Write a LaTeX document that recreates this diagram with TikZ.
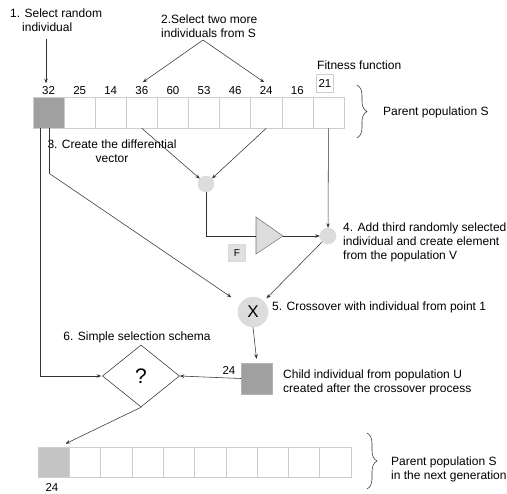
\documentclass[tikz,border=0pt]{standalone}
\usepackage{fontspec}
\setmainfont{Liberation Sans}
\usetikzlibrary{shapes.geometric,decorations.pathreplacing,arrows.meta}
\definecolor{darkcell}{HTML}{A0A0A0}
\definecolor{lightcell}{HTML}{C4C4C4}
\definecolor{bubble}{HTML}{DCDCDC}
\definecolor{cellline}{HTML}{CDCDCD}
\definecolor{ink}{HTML}{333333}
\begin{document}
\begin{tikzpicture}[x=1pt,y=-1pt,
  font=\fontsize{12}{14}\selectfont,
  arr/.style={-{Stealth[length=4.5pt,width=3.5pt]}, draw=ink, line width=0.55pt},
  ln/.style={draw=ink, line width=0.55pt},
  cell/.style={draw=cellline, minimum width=31.1pt, minimum height=31pt, inner sep=0pt, line width=0.6pt},
  bcell/.style={draw=cellline, minimum width=31.3pt, minimum height=30pt, inner sep=0pt, line width=0.6pt},
  txt/.style={inner sep=0pt, align=left},
  num/.style={inner sep=0pt, font=\fontsize{11.5}{13}\selectfont},
  bub/.style={circle, fill=bubble, draw=black!15, inner sep=0pt, minimum size=16pt},
  bracestyle/.style={draw=ink, line width=0.55pt, decorate, decoration={brace, amplitude=10pt}}
]
\useasboundingbox (0,0) rectangle (507,494);

% top population
\foreach \i in {1,...,10} {
  \node[cell] (c\i) at ({33+(\i-0.5)*31.1},112.5) {};
}
\node[cell, fill=darkcell] at (c1) {};
\foreach \v [count=\i] in {32,25,14,36,60,53,46,24,16} {
  \node[num] (n\i) at ({33+(\i-0.5)*31.1},90.5) {\v};
}
\node[draw=cellline, line width=0.6pt, minimum width=17pt, minimum height=18pt, inner sep=0pt, font=\fontsize{11.5}{13}\selectfont] (fit) at (325,83) {21};
\node[txt, anchor=west] (fitlbl) at (317,65) {Fitness function};

% brace top
\coordinate (bt1) at (357,85);
\coordinate (bt2) at (357,138);
\draw[bracestyle] (bt1) -- (bt2);
\node[txt, anchor=west] (parS) at (383,112) {Parent population S};

% labels
\node[txt, anchor=west] (l1) at (10,20) {1. Select random\\\hspace*{12pt}individual};
\node[txt, anchor=west] (l2) at (161,26) {2.Select two more\\individuals from S};
\node[inner sep=0pt, align=center] (l3) at (112,151) {3. Create the differential\\vector};
\node[txt, anchor=west] (l4) at (343,242) {4. Add third randomly selected\\individual and create element\\from the population V};
\node[txt, anchor=west] (l5) at (272,307) {5. Crossover with individual from point 1};
\node[inner sep=0pt] (l6) at (137,337) {6. Simple selection schema};

% arrows from labels
\coordinate (a1s) at (46,39);
\coordinate (a2s) at (203,40);
\draw[arr] (a1s) -- ([yshift=3pt]a1s |- n1.north);
\draw[arr] (a2s) -- ([xshift=1pt,yshift=4pt]n4.north);
\draw[arr] (a2s) -- ([xshift=-2pt,yshift=4pt]n8.north);

% differential circle
\node[bub] (d1) at (206,184) {};
\draw[arr] (c4.south) -- (d1);
\draw[arr] (c8.south) -- (d1);

% triangle
\draw[fill=bubble, draw=black!55, line width=0.55pt] (256,217) -- (283,236) -- (256,254) -- cycle;
\coordinate (triW) at (256,236);
\coordinate (triE) at (283,236);
\draw[ln] (d1.south) |- (triW);
\node[fill=black!12, draw=black!15, minimum size=17pt, inner sep=0pt, font=\fontsize{10}{12}\selectfont] (F) at (237,253) {F};

% second circle
\node[bub] (d2) at (328,236) {};
\draw[arr] (triE) -- (d2);
\draw[arr] (c10.south) -- (d2);

% crossover
\node[circle, fill=bubble, draw=black!15, inner sep=0pt, minimum size=30pt, font=\fontsize{17}{17}\selectfont] (X) at (253,312) {X};
\draw[arr, shorten >=4pt] (d2) -- (X);
\draw[ln] ([xshift=0.5pt]c1.south) -- ++(0,45) coordinate (bend);
\draw[arr, shorten >=11pt] (bend) -- (X);

% child
\node[fill=darkcell, draw=black!30, minimum size=31pt, inner sep=0pt] (child) at (256.5,378.5) {};
\draw[arr] (X.south) -- ([yshift=4pt]child.north);
\node[num] (n24c) at (229,370) {24};
\node[txt, anchor=west] (childlbl) at (283,382) {Child individual from population U\\created after the crossover process};

% diamond
\node[diamond, draw=ink, line width=0.55pt, minimum width=77pt, minimum height=62pt, inner sep=0pt, aspect=1.24, font=\fontsize{21}{21}\selectfont] (dia) at (141,376) {?};
\draw[arr] (child.west) -- (dia.east);
\draw[arr] ([xshift=-8pt]c1.south) |- ([xshift=-1pt]dia.west);

% bottom population
\foreach \i in {1,...,10} {
  \node[bcell] (b\i) at ({38+(\i-0.5)*31.3},462) {};
}
\node[bcell, fill=lightcell] at (b1) {};
\node[num] (n24b) at (52,487) {24};
\draw[arr] (dia.south) -- ([xshift=-4pt,yshift=3pt]b1.north east);

\coordinate (bb1) at (367,433);
\coordinate (bb2) at (367,489);
\draw[bracestyle] (bb1) -- (bb2);
\node[txt, anchor=west] (parS2) at (391,469) {Parent population S\\in the next generation};
\end{tikzpicture}
\end{document}
